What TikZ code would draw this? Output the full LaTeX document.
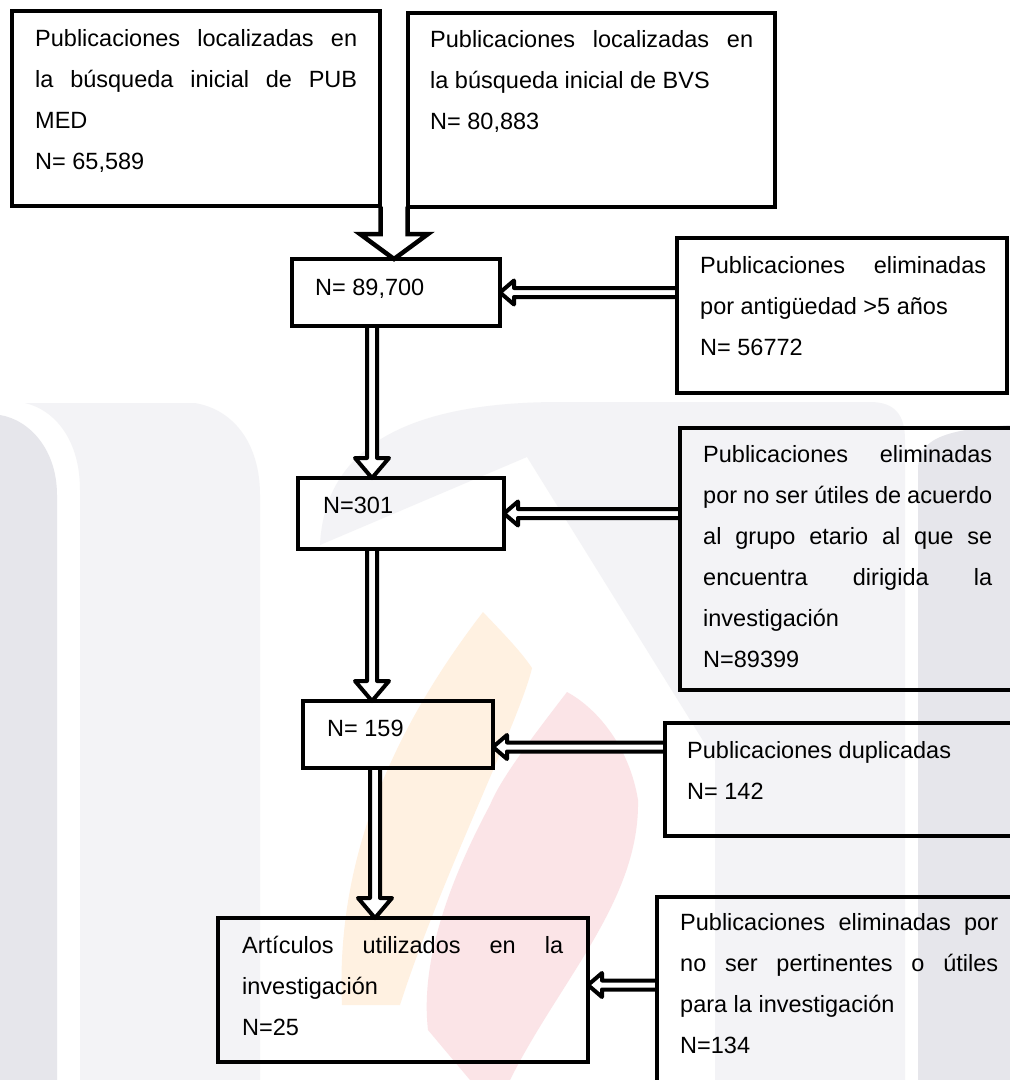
\documentclass[tikz,border=0pt]{standalone}
\usepackage{fontspec}
\setmainfont{Liberation Sans}
\usetikzlibrary{calc}
\pgfdeclarelayer{wm}
\pgfdeclarelayer{back}
\pgfsetlayers{wm,back,main}
\definecolor{wmlight}{HTML}{F3F3F6}
\definecolor{wmdark}{HTML}{E6E6EB}
\definecolor{wmorange}{HTML}{FFF1E1}
\definecolor{wmpink}{HTML}{FBE4E7}
\hyphenpenalty=10000
\exhyphenpenalty=10000
\tolerance=10000

\begin{document}
\begin{tikzpicture}[x=1pt,y=-1pt,
  box/.style={
    draw=black,
    line width=4.5pt,
    outer sep=0pt,
    inner sep=0pt,
    anchor=north west
  },
  txt/.style={
    font=\fontsize{23.5}{41}\selectfont,
    inner sep=0pt,
    anchor=base west,
    align=justify
  },
  blockarrow/.style n args={3}{% half shaft, half head, head length
    draw=black,
    fill=white,
    line join=round,
    to path={
      ($(\tikztostart)!#1!90:(\tikztotarget)$)
      -- ($(\tikztotarget)!#3!(\tikztostart)!#1!-90:(\tikztostart)$)
      -- ($(\tikztotarget)!#3!(\tikztostart)!#2!-90:(\tikztostart)$)
      -- (\tikztotarget)
      -- ($(\tikztotarget)!#3!(\tikztostart)!#2!90:(\tikztostart)$)
      -- ($(\tikztotarget)!#3!(\tikztostart)!#1!90:(\tikztostart)$)
      -- ($(\tikztostart)!#1!-90:(\tikztotarget)$)
    }
  },
  bigarrow/.style={blockarrow={13.5pt}{34pt}{25pt}, line width=4.5pt, line join=miter},
  downarrow/.style={blockarrow={5pt}{17pt}{20pt}, line width=4pt},
  leftarrow/.style={blockarrow={4.5pt}{12pt}{14pt}, line width=4pt}
]
\useasboundingbox (0,0) rectangle (1010,1080);
\clip (0,0) rectangle (1010,1080);

\begin{pgfonlayer}{wm}
\fill[white] (0,0) rectangle (1010,1080);
% faint watermark behind the chart
\fill[wmdark] (0,1080) -- (0,415) .. controls (30,420) and (57,450) .. (57,495) -- (57,1080) -- cycle;
\fill[wmlight] (80,1080) -- (80,490) .. controls (80,440) and (55,410) .. (25,403)
  -- (195,403) .. controls (235,410) and (260,445) .. (260,495) -- (260,1080) -- cycle;
\fill[wmlight] (320,545) .. controls (325,440) and (420,402) .. (560,402) -- (870,402)
  .. controls (895,402) and (905,415) .. (905,440) -- (905,1080) -- (715,1080)
  -- (715,760) -- (527,457) -- cycle;
\fill[wmdark] (918,1080) -- (918,470) .. controls (918,440) and (940,430) .. (1010,425) -- (1010,1080) -- cycle;
\fill[wmorange] (483,612) .. controls (500,630) and (520,650) .. (532,668)
  .. controls (520,720) and (440,880) .. (400,1005) -- (342,1005)
  .. controls (335,850) and (400,720) .. (483,612) -- cycle;
\fill[wmpink] (567,692) .. controls (530,740) and (500,780) .. (490,805)
  .. controls (450,880) and (420,960) .. (428,1030) -- (470,1080) -- (510,1080)
  .. controls (560,980) and (640,900) .. (638,800)
  .. controls (630,750) and (600,710) .. (567,692) -- cycle;
\end{pgfonlayer}

% boxes
\node[box, minimum width=368pt, minimum height=195pt] (pub) at (12,11) {};
\node[box, minimum width=367pt, minimum height=194pt] (bvs) at (408,13) {};
\node[box, minimum width=208pt, minimum height=67pt] (n1) at (292,259) {};
\node[box, minimum width=330pt, minimum height=155pt] (ant) at (677,238) {};
\node[box, minimum width=206pt, minimum height=71pt] (n2) at (298,478) {};
\node[box, minimum width=360pt, minimum height=262pt] (util) at (680,428) {};
\node[box, minimum width=190pt, minimum height=67pt] (n3) at (303,701) {};
\node[box, minimum width=360pt, minimum height=113pt] (dup) at (665,723) {};
\node[box, minimum width=370pt, minimum height=144pt] (art) at (218,918) {};
\node[box, minimum width=380pt, minimum height=220pt] (pert) at (657,897) {};

% texts
\node[txt, text width=322pt] (tpub) at (35,46)
  {Publicaciones localizadas en\linebreak la búsqueda inicial de PUB\linebreak MED\par N= 65,589};
\node[txt, text width=323pt] (tbvs) at (430,47)
  {Publicaciones localizadas en\linebreak la búsqueda inicial de BVS\par N= 80,883};
\node[txt] (tn1) at (315,295) {N= 89,700};
\node[txt, text width=286pt] (tant) at (700,273)
  {Publicaciones eliminadas\linebreak por antigüedad >5 años\par N= 56772};
\node[txt] (tn2) at (323,513) {N=301};
\node[txt, text width=289pt] (tutil) at (703,462)
  {Publicaciones eliminadas\linebreak por no ser útiles de acuerdo\linebreak al grupo etario al que se\linebreak encuentra dirigida la\linebreak investigación\par N=89399};
\node[txt] (tn3) at (327,736) {N= 159};
\node[txt, text width=300pt] (tdup) at (687,758)
  {Publicaciones duplicadas\par N= 142};
\node[txt, text width=321pt] (tart) at (242,953)
  {Artículos utilizados en la\linebreak investigación\par N=25};
\node[txt, text width=318pt] (tpert) at (680,930)
  {Publicaciones eliminadas por\linebreak no ser pertinentes o útiles\linebreak para la investigación\par N=134};

% connectors
\begin{pgfonlayer}{back}
\coordinate (top) at ($(pub.south east)!.5!(bvs.south west)$);
\draw[bigarrow] (top) to (top |- n1.north);
\draw[downarrow] (372,0 |- n1.south) to (372,0 |- n2.north);
\draw[downarrow] (372,0 |- n2.south) to (372,0 |- n3.north);
\draw[downarrow] (375,0 |- n3.south) to (375,0 |- art.north);
\draw[leftarrow] (n1.east -| ant.west) to (n1.east);
\draw[leftarrow] (n2.east -| util.west) to (n2.east);
\draw[leftarrow] (dup.west |- 0,747) to (n3.east |- 0,747);
\draw[leftarrow] (pert.west |- 0,985) to (art.east |- 0,985);
\end{pgfonlayer}
\end{tikzpicture}
\end{document}
